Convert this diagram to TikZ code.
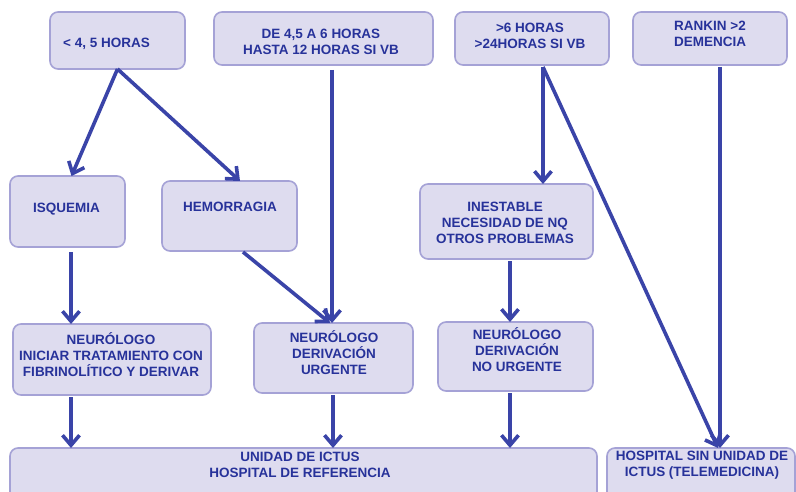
\documentclass[tikz,border=0pt]{standalone}
\usepackage{fontspec}
\setmainfont{Liberation Sans}
\usetikzlibrary{arrows.meta,calc}
\definecolor{boxfill}{HTML}{DEDCEF}
\definecolor{boxline}{HTML}{A5A2D6}
\definecolor{txt}{HTML}{27329A}
\definecolor{arr}{HTML}{3A44A8}
\tikzset{
  box/.style={draw=boxline, line width=1.6pt, fill=boxfill, rounded corners=8pt,
    inner sep=0pt, outer sep=0pt},
  lbl/.style={text=txt, font=\bfseries\fontsize{13.5}{16}\selectfont, align=center, inner sep=0pt},
  conn/.style={draw=arr, line width=3.6pt, -{Straight Barb[length=10pt,width=17pt]}},
}
\begin{document}
\begin{tikzpicture}[x=1pt,y=-1pt]
\clip (0,0) rectangle (796,492);
\fill[white] (0,0) rectangle (796,492);
% boxes
\node[box, minimum width=135pt, minimum height=57pt] (b1) at (117.5,40.5) {};
\node[box, minimum width=219pt, minimum height=53pt] (b2) at (323.5,38.5) {};
\node[box, minimum width=154pt, minimum height=53pt] (b3) at (532,38.5) {};
\node[box, minimum width=154pt, minimum height=53pt] (b4) at (710,38.5) {};
\node[box, minimum width=115pt, minimum height=71pt] (isq) at (67.5,211.5) {};
\node[box, minimum width=135pt, minimum height=70pt] (hem) at (229.5,216) {};
\node[box, minimum width=173pt, minimum height=75pt] (ine) at (506.5,221.5) {};
\node[box, minimum width=198pt, minimum height=71pt] (n1) at (112,359.5) {};
\node[box, minimum width=159pt, minimum height=70pt] (n2) at (333.5,358) {};
\node[box, minimum width=155pt, minimum height=69pt] (n3) at (515.5,356.5) {};
\node[box, minimum width=587pt, minimum height=60pt] (uni) at (303.5,478) {};
\node[box, minimum width=188pt, minimum height=60pt] (hos) at (701,478) {};
% labels
\node[lbl] (t1) at (106.5,44) {< 4, 5 HORAS};
\node[lbl] (t2) at (321,41.5) {DE 4,5 A 6 HORAS\\HASTA 12 HORAS SI VB};
\node[lbl] (t3) at (530,35.5) {>6 HORAS\\>24HORAS SI VB};
\node[lbl] (t4) at (710,33.5) {RANKIN >2\\DEMENCIA};
\node[lbl] (t5) at (66.5,209) {ISQUEMIA};
\node[lbl] (t6) at (230,207) {HEMORRAGIA};
\node[lbl] (t7) at (505,223) {INESTABLE\\NECESIDAD DE NQ\\OTROS PROBLEMAS};
\node[lbl] (t8) at (111,354.5) {NEURÓLOGO\\INICIAR TRATAMIENTO CON\\FIBRINOLÍTICO Y DERIVAR};
\node[lbl] (t9) at (334,353) {NEURÓLOGO\\DERIVACIÓN\\URGENTE};
\node[lbl] (t10) at (517,350) {NEURÓLOGO\\DERIVACIÓN\\NO URGENTE};
\node[lbl] (t11) at (300,465) {UNIDAD DE ICTUS\\HOSPITAL DE REFERENCIA};
\node[lbl] (t12) at (702,465) {HOSPITAL SIN UNIDAD DE\\ICTUS (TELEMEDICINA)};
% connectors
\draw[conn] (b1.south) -- ($(isq.north)+(4,0)$);
\draw[conn] (b1.south) -- ($(hem.north)+(10.5,0)$);
\draw[conn] ($(b2.south)+(8.5,5)$) -- ($(n2.north)+(-1.5,0)$);
\draw[conn] ($(hem.south)+(13.5,1)$) -- ($(n2.north)+(-3.5,0)$);
\draw[conn] ($(isq.south)+(3.5,5)$) -- ($(n1.north)+(-41,0)$);
\draw[conn] ($(n1.south)+(-41,2)$) -- ($(uni.north)+(-232.5,0)$);
\draw[conn] ($(n2.south)+(-0.5,2)$) -- ($(uni.north)+(29.5,0)$);
\draw[conn] ($(b3.south)+(11,2)$) -- ($(ine.north)+(36.5,0)$);
\draw[conn] ($(b3.south)+(11,2)$) -- ($(hos.north)+(17,0)$);
\draw[conn] ($(b4.south)+(10,2)$) -- ($(hos.north)+(19,0)$);
\draw[conn] ($(ine.south)+(3.5,2)$) -- ($(n3.north)+(-5.5,0)$);
\draw[conn] ($(n3.south)+(-5.5,2)$) -- ($(uni.north)+(206.5,0)$);
\end{tikzpicture}
\end{document}
